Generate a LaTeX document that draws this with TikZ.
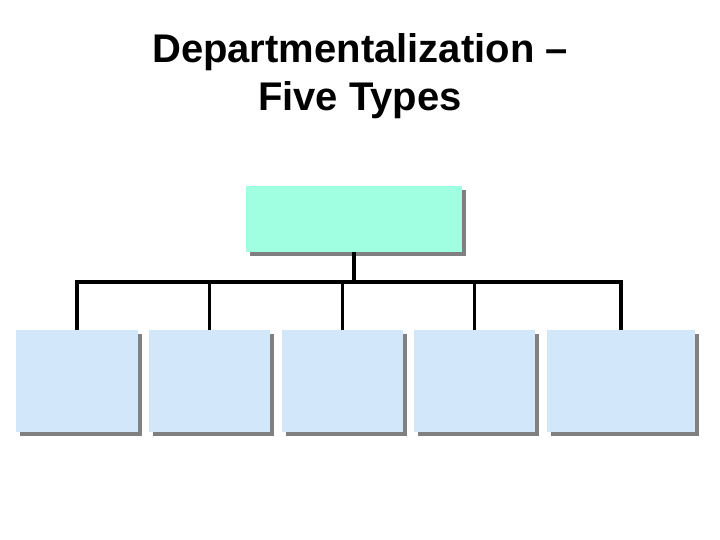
\documentclass[tikz,border=0pt]{standalone}
\usepackage{fontspec}
\setmainfont{Liberation Sans}
\definecolor{headfill}{RGB}{160,255,224}
\definecolor{deptfill}{RGB}{210,232,250}
\definecolor{shadowgray}{RGB}{128,128,128}
\tikzset{
  box/.style={inner sep=0pt, outer sep=0pt, anchor=north west},
  link/.style={line width=3.2pt}
}
\begin{document}
\begin{tikzpicture}[x=1pt,y=-1pt]
    \useasboundingbox (0,0) rectangle (720,540);
    % Title
    \node[font=\bfseries\fontsize{40}{48}\selectfont, align=center] (title) at (360,76) {Departmentalization --\\Five Types};

    % Head box with shadow
    \fill[shadowgray] (250,190) rectangle (466,256);
    \node[box, fill=headfill, minimum width=216pt, minimum height=66pt] (head) at (246,186) {};

    % Department boxes with shadows
    \foreach \x/\w [count=\i] in {16/122, 149/121, 282/121, 414/121, 547/148} {
        \fill[shadowgray] (\x+4,334) rectangle (\x+\w+4,436);
        \node[box, fill=deptfill, minimum width=\w pt, minimum height=102pt] (d\i) at (\x,330) {};
    }

    % Connectors
    \draw[link] (head.south) -- ++(0,30) coordinate (bus);
    \draw[link] (d1.north) -- ++(0,-48) coordinate (busL);
    \draw[link] (d5.north) -- ++(0,-48) coordinate (busR);
    \draw[link, line cap=rect] (busL) -- (busR);
    \foreach \i in {2,3,4}
        \draw[link] (d\i.north) -- (d\i.north |- bus);
\end{tikzpicture}
\end{document}
